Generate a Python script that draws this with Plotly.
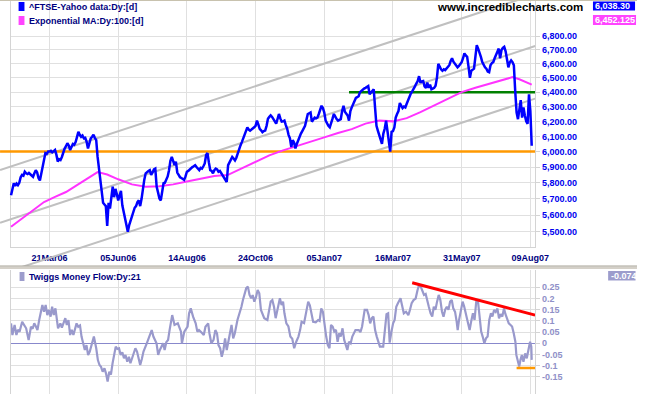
import math
import plotly.graph_objects as go

# ---------------- data ----------------
tick_idx = [0, 50, 100, 150, 200, 250, 300, 350]          # trading-day index
tick_lbl = ["21Mar06", "05Jun06", "14Aug06", "24Oct06",
            "05Jan07", "16Mar07", "31May07", "09Aug07"]

first_idx = -28
ftse_close = [
    5722, 5760, 5797, 5780, 5795, 5785, 5800, 5835, 5850, 5845,
    5870, 5860, 5855, 5862, 5855, 5845, 5838, 5860, 5880, 5865,
    5830, 5815, 5860, 5912, 5950, 5990, 5985, 6000, 6000, 6005,
    5995, 6000, 6010, 5980, 5935, 5950, 5945, 5965, 5995, 6020,
    6035, 6055, 6040, 6010, 6030, 6050, 6045, 6062, 6095, 6130,
    6110, 6097, 6105, 6087, 6090, 6065, 6020, 6050, 6087, 6097,
    6110, 6090, 6075, 5965, 5880, 5800, 5720, 5675, 5665, 5655,
    5535, 5675, 5640, 5700, 5775, 5710, 5762, 5730, 5690, 5720,
    5750, 5660, 5620, 5590, 5530, 5500, 5540, 5570, 5600, 5630,
    5645, 5655, 5680, 5690, 5655, 5700, 5775, 5820, 5860, 5870,
    5875, 5880, 5850, 5865, 5885, 5890, 5775, 5740, 5702, 5690,
    5760, 5797, 5800, 5818, 5840, 5880, 5940, 5965, 5930, 5912,
    5935, 5865, 5850, 5835, 5830, 5825, 5818, 5840, 5870, 5875,
    5885, 5895, 5900, 5905, 5912, 5900, 5890, 5880, 5895, 5890,
    5905, 5923, 5978, 5990, 5930, 5880, 5875, 5860, 5880, 5890,
    5885, 5870, 5875, 5860, 5850, 5830, 5815, 5805, 5912, 5930,
    5950, 5965, 5955, 5943, 5960, 5990, 6010, 6040, 6062, 6085,
    6105, 6130, 6160, 6145, 6138, 6145, 6150, 6160, 6170, 6205,
    6180, 6150, 6140, 6128, 6135, 6138, 6170, 6218, 6230, 6240,
    6230, 6218, 6200, 6184, 6215, 6250, 6220, 6198, 6200, 6205,
    6175, 6150, 6110, 6087, 6030, 6075, 6060, 6020, 6050, 6075,
    6095, 6118, 6135, 6150, 6170, 6210, 6250, 6255, 6260, 6198,
    6215, 6225, 6220, 6225, 6250, 6280, 6306, 6290, 6260, 6205,
    6185, 6170, 6160, 6200, 6218, 6250, 6230, 6215, 6205, 6210,
    6215, 6270, 6306, 6265, 6250, 6240, 6205, 6270, 6295, 6320,
    6340, 6360, 6365, 6372, 6400, 6410, 6420, 6425, 6430, 6435,
    6442, 6385, 6395, 6410, 6420, 6290, 6170, 6138, 6105, 6075,
    6050, 6118, 6150, 6205, 6138, 6090, 6000, 6130, 6135, 6160,
    6225, 6250, 6270, 6325, 6310, 6290, 6300, 6295, 6320, 6345,
    6360, 6390, 6405, 6420, 6440, 6460, 6478, 6512, 6466, 6475,
    6478, 6440, 6430, 6466, 6430, 6453, 6420, 6425, 6430, 6445,
    6500, 6600, 6575, 6560, 6550, 6560, 6555, 6565, 6575, 6590,
    6620, 6640, 6615, 6600, 6590, 6575, 6585, 6600, 6612, 6640,
    6675, 6660, 6650, 6580, 6500, 6550, 6560, 6565, 6650, 6735,
    6710, 6685, 6650, 6612, 6590, 6575, 6565, 6545, 6540, 6590,
    6605, 6612, 6640, 6662, 6685, 6710, 6640, 6700, 6715, 6723,
    6690, 6640, 6575, 6610, 6625, 6612, 6590, 6405, 6260, 6215,
    6290, 6345, 6225, 6295, 6240, 6200, 6184, 6385, 6271, 6038.3,
]
ftse_idx = list(range(first_idx, first_idx + len(ftse_close)))

ema_idx = [-28, -20, -12, -4, 4, 12, 20, 28, 35, 42, 50, 60, 70, 80, 90, 100,
           110, 120, 130, 140, 150, 160, 170, 180, 190, 200, 210, 220, 230,
           240, 250, 260, 270, 280, 290, 300, 310, 320, 330, 337, 342, 347, 351]
ema_val = [5530, 5580, 5630, 5680, 5712, 5742, 5785, 5830, 5868, 5852, 5822,
           5790, 5775, 5778, 5790, 5808, 5825, 5843, 5850, 5892, 5935, 5975,
           6008, 6035, 6062, 6093, 6122, 6148, 6185, 6205, 6200, 6222, 6262,
           6306, 6355, 6400, 6430, 6458, 6490, 6505, 6490, 6470, 6452.125]

tmf_idx = [
    -28, -27, -25.4, -24.1, -23, -21.8, -19.9, -18.2, -17, -15.2, -13.5, -12.3,
    -11.1, -9.9, -8.8, -7.5, -6.3, -5.2, -4, -2.8, -1.6, -0.4, 0.8, 1.9, 3.1,
    4.3, 6.2, 7.9, 9, 11.5, 12.6, 13.8, 15, 16.2, 17.4, 19.7, 20.9, 22.2, 23.3,
    24.5, 25.7, 26.9, 28.1, 29.3, 30.4, 32.3, 34, 35.2, 36.4, 37.5, 38.7, 40,
    41.1, 42.3, 43.5, 44.7, 45.9, 47.1, 48.2, 49.4, 50.6, 51.8, 53, 54.2, 55.3,
    56.6, 57.8, 58.9, 61.3, 62.5, 63.7, 66, 67.2, 68.4, 70.8, 72, 74.4, 75.6,
    77.9, 79.1, 80.3, 82.7, 83.8, 85, 86.3, 87.4, 89.3, 91, 93.4, 95.7, 96.4,
    98.1, 100.5, 101.6, 102.8, 104.5, 106.4, 107.6, 108.8, 111.2, 112.3, 113.5,
    115.5, 116.4, 117.8, 119.4, 120.7, 121.9, 123, 124.2, 125.4, 126.6, 127.8,
    129, 130.1, 131.3, 132.5, 133.7, 134.9, 136.8, 138.5, 139.7, 140.8, 142,
    143.2, 144.4, 145.6, 146.8, 147.9, 149.1, 150.4, 151.5, 152.7, 153.9,
    155.1, 156.3, 158.6, 159.8, 161, 162.2, 163.4, 164.6, 165.7, 166.9, 167.7,
    168.9, 170, 171, 172.4, 173.9, 175.3, 176.7, 178.1, 179.6, 181.2, 182.4,
    183.5, 185.3, 186.7, 188.3, 189.5, 190.7, 191.9, 193.8, 195.5, 196.6,
    197.8, 199, 200.2, 201.4, 202.6, 203.8, 204.9, 206.1, 207.3, 208.5, 209.7,
    210.9, 212, 213.3, 214.5, 215.6, 216.8, 218, 219.2, 220.4, 222.7, 225.1,
    226.3, 227.5, 229.4, 231.1, 232.3, 233.4, 234.6, 235.8, 237, 238.2, 239.4,
    240.5, 242.9, 244.1, 245.3, 246.5, 247.6, 248.9, 250.1, 251.2, 252.4,
    253.6, 255.5, 256.4, 257.9, 259.5, 261.2, 262.4, 263.6, 265, 266.5, 267.9,
    269, 270.2, 271.4, 272.6, 273.8, 275, 276.1, 277.4, 278.6, 279.7, 280.9,
    282.1, 283.3, 284.5, 285.7, 286.8, 288, 289.2, 290.4, 291.6, 292.8, 293.9,
    295.2, 296.4, 297.1, 298, 299.3, 300.7, 301.8, 303, 304.6, 305.8, 307,
    308.2, 309.4, 310.6, 311.8, 313, 314.2, 315.3, 316.5, 317.7, 318.9, 320.1,
    321.3, 322.4, 323.6, 324.8, 326, 327.2, 328.4, 329.6, 330.8, 331.9, 333.1,
    334.3, 335.6, 336.7, 337.9, 339.1, 339.8, 340.7, 341.9, 342.8, 343.8, 345,
    346.2, 347.4, 348.6, 349.8, 350.7, 351,
]
tmf_val = [
    0.089, 0.037, 0.082, 0.037, 0.060, 0.052, 0.096, 0.082, 0.067, 0.015, 0.074,
    0.065, 0.089, 0.075, 0.059, 0.104, 0.141, 0.171, 0.141, 0.171, 0.126, 0.149,
    0.119, 0.163, 0.126, 0.156, 0.067, 0.089, 0.070, 0.112, 0.082, 0.104, 0.037,
    0.060, 0.037, 0.089, 0.074, 0.080, 0.030, -0.008, -0.030, -0.008, -0.052,
    -0.037, -0.015, 0.030, -0.022, -0.075, -0.097, -0.105, -0.127, -0.112,
    -0.134, -0.171, -0.127, -0.140, -0.089, -0.045, -0.015, -0.025, -0.022,
    -0.052, -0.040, -0.067, -0.052, -0.082, -0.060, -0.089, -0.037, -0.022,
    -0.037, -0.097, -0.070, -0.037, 0.000, 0.022, 0.059, 0.030, 0.000, -0.052,
    -0.030, 0.000, -0.030, 0.005, 0.015, 0.059, 0.126, 0.082, 0.089, 0.052,
    0.000, 0.052, 0.074, 0.134, 0.156, 0.119, 0.089, 0.052, 0.059, 0.045, 0.037,
    0.074, 0.089, 0.045, 0.000, 0.015, 0.059, 0.045, -0.008, -0.022, -0.060,
    -0.030, 0.022, -0.030, 0.007, 0.052, 0.082, 0.022, 0.045, 0.104, 0.134,
    0.163, 0.193, 0.223, 0.246, 0.253, 0.216, 0.201, 0.215, 0.186, 0.208, 0.238,
    0.223, 0.149, 0.134, 0.112, 0.104, 0.149, 0.186, 0.193, 0.163, 0.112, 0.140,
    0.179, 0.201, 0.171, 0.186, 0.134, 0.089, 0.075, 0.030, 0.020, -0.022, 0.007,
    0.030, 0.059, 0.096, 0.090, 0.134, 0.186, 0.170, 0.134, 0.096, 0.094, 0.104,
    0.100, 0.156, 0.141, 0.074, 0.030, -0.008, -0.022, 0.082, 0.075, 0.052,
    0.060, 0.007, 0.045, 0.030, 0.067, 0.015, -0.008, -0.030, 0.007, 0.000,
    0.030, 0.059, 0.059, 0.050, 0.074, 0.149, 0.149, 0.126, 0.089, 0.112, 0.119,
    0.059, 0.030, 0.007, -0.015, -0.015, 0.074, 0.130, 0.134, 0.003, 0.052,
    0.089, 0.104, 0.163, 0.179, 0.201, 0.175, 0.134, 0.141, 0.126, 0.150, 0.179,
    0.193, 0.200, 0.238, 0.260, 0.253, 0.238, 0.216, 0.220, 0.186, 0.163, 0.134,
    0.119, 0.163, 0.150, 0.186, 0.216, 0.193, 0.141, 0.119, 0.150, 0.163, 0.150,
    0.186, 0.193, 0.156, 0.140, 0.096, 0.059, 0.100, 0.149, 0.186, 0.165, 0.134,
    0.082, 0.059, 0.100, 0.134, 0.104, 0.186, 0.193, 0.112, 0.052, 0.030, 0.000,
    0.022, 0.030, 0.104, 0.134, 0.120, 0.149, 0.140, 0.156, 0.112, 0.130, 0.119,
    0.156, 0.130, 0.104, 0.089, 0.082, 0.075, 0.045, 0.007, -0.052, -0.082,
    -0.104, -0.075, -0.052, -0.082, -0.045, -0.067, -0.037, 0.007, -0.015,
    -0.074,
]

price_ticks = list(range(5500, 6801, 100))
tmf_ticks = [0.25, 0.2, 0.15, 0.1, 0.05, 0, -0.05, -0.1, -0.15]
tmf_tick_lbl = ["0.25", "0.2", "0.15", "0.1", "0.05", "0", "-0.05", "-0.1", "-0.15"]

support_level = 6000
resistance_level = 6400
resistance_from = 218
channel_idx = [-36.0, 353.5]
channel_upper = [5881, 7117]
channel_middle = [5554, 6729]
channel_lower = [5252, 6355]
tmf_trend_idx = [264, 353.5]
tmf_trend_val = [0.270, 0.126]
tmf_floor_idx = [340, 353.5]
tmf_floor_val = -0.110

last_close = 6038.30
last_ema = 6452.125
last_tmf = -0.074

# ---------------- geometry ----------------
W, H = 651, 395
PX_DAY, X0 = 1.404, 50.6
K = (231.7 - 36.3) / math.log(6800 / 5500)


def idx_at(p):
    return (p - X0) / PX_DAY


def price_at(p):
    return 6800 * math.exp((36.3 - p) / K)


def tmf_at(p):
    return (343.3 - p) / 224.0


def fx(p):
    return p / W


def fy(p):
    return 1 - p / H


main_box = (11, 1, 547, 247)
over_box = (0, 1, 547, 266)
tmf_box = (11, 270, 547, 394)

FONT = "Liberation Sans, Arial, sans-serif"
GRID = "#e0e0e0"
BORDER = "#d4d4d4"

fig = go.Figure()

# empty holder trace so the main (grid / tick label) subplot exists
fig.add_trace(go.Scatter(x=[], y=[], xaxis="x", yaxis="y", mode="lines", hoverinfo="skip"))

# channel + support/resistance (overlay axes, extend beyond plot like the original)
for vals in (channel_upper, channel_middle, channel_lower):
    fig.add_trace(go.Scatter(x=channel_idx, y=vals, mode="lines", xaxis="x3", yaxis="y3",
                             line=dict(color="#c0c0c0", width=2), hoverinfo="skip"))
fig.add_trace(go.Scatter(x=channel_idx, y=[support_level] * 2, mode="lines", xaxis="x3", yaxis="y3",
                         line=dict(color="#ff9900", width=2.5), hoverinfo="skip"))
fig.add_trace(go.Scatter(x=[resistance_from, channel_idx[1]], y=[resistance_level] * 2, mode="lines",
                         xaxis="x3", yaxis="y3", line=dict(color="#008000", width=2.5), hoverinfo="skip"))
fig.add_trace(go.Scatter(x=ema_idx, y=ema_val, mode="lines", xaxis="x3", yaxis="y3",
                         line=dict(color="#ff33ff", width=2), name="Exponential MA:Dy:100:[d]"))
fig.add_trace(go.Scatter(x=ftse_idx, y=ftse_close, mode="lines", xaxis="x3", yaxis="y3",
                         line=dict(color="#0000ff", width=2.5), name="^FTSE-Yahoo data:Dy:[d]"))

# Twiggs money flow
fig.add_trace(go.Scatter(x=tmf_idx, y=tmf_val, mode="lines", xaxis="x2", yaxis="y2",
                         line=dict(color="#9999cc", width=2.2), name="Twiggs Money Flow:Dy:21"))
fig.add_trace(go.Scatter(x=tmf_trend_idx, y=tmf_trend_val, mode="lines", xaxis="x2", yaxis="y2",
                         line=dict(color="#ff0000", width=3), hoverinfo="skip"))
fig.add_trace(go.Scatter(x=tmf_floor_idx, y=[tmf_floor_val] * 2, mode="lines", xaxis="x2", yaxis="y2",
                         line=dict(color="#ff9900", width=2.5), hoverinfo="skip"))

tick_font_x = dict(family=FONT, size=9, color="#000080", weight="bold")

layout = dict(
    width=W, height=H, margin=dict(l=0, r=0, t=0, b=0),
    paper_bgcolor="white", plot_bgcolor="rgba(0,0,0,0)", showlegend=False,
    font=dict(family=FONT),
    xaxis=dict(domain=[fx(main_box[0]), fx(main_box[2])], anchor="y",
               range=[idx_at(main_box[0]), idx_at(main_box[2])],
               tickmode="array", tickvals=tick_idx, ticktext=tick_lbl,
               showgrid=True, gridcolor=GRID, zeroline=False,
               showline=True, linecolor=BORDER, linewidth=1,
               ticks="", ticklabelstandoff=2,
               tickfont=tick_font_x, fixedrange=True),
    yaxis=dict(domain=[fy(main_box[3]), fy(main_box[1])], anchor="x", type="log",
               range=[math.log10(price_at(main_box[3])), math.log10(price_at(main_box[1]))],
               side="right", tickmode="array", tickvals=price_ticks, tickformat=",.2f",
               showgrid=True, gridcolor=GRID, zeroline=False,
               showline=True, mirror=True, linecolor=BORDER, linewidth=1,
               ticks="outside", ticklen=4, tickcolor=BORDER,
               tickfont=dict(family=FONT, size=9, color="#0000ee", weight="bold"),
               fixedrange=True),
    xaxis3=dict(domain=[fx(over_box[0]), fx(over_box[2])], anchor="y3",
                range=[idx_at(over_box[0]), idx_at(over_box[2])], visible=False, fixedrange=True),
    yaxis3=dict(domain=[fy(over_box[3]), fy(over_box[1])], anchor="x3", type="log",
                range=[math.log10(price_at(over_box[3])), math.log10(price_at(over_box[1]))],
                visible=False, fixedrange=True),
    xaxis2=dict(domain=[fx(tmf_box[0]), fx(tmf_box[2])], anchor="y2",
                range=[idx_at(tmf_box[0]), idx_at(tmf_box[2])],
                tickmode="array", tickvals=tick_idx, showticklabels=False,
                showgrid=True, gridcolor=GRID, zeroline=False, showline=False, ticks="",
                fixedrange=True),
    yaxis2=dict(domain=[fy(tmf_box[3]), fy(tmf_box[1])], anchor="x2",
                range=[tmf_at(tmf_box[3]), tmf_at(tmf_box[1])],
                side="right", tickmode="array", tickvals=tmf_ticks, ticktext=tmf_tick_lbl,
                showgrid=True, gridcolor=GRID,
                zeroline=True, zerolinecolor="#8888cc", zerolinewidth=1,
                showline=True, mirror=True, linecolor=BORDER, linewidth=1,
                ticks="outside", ticklen=4, tickcolor=BORDER,
                tickfont=dict(family=FONT, size=9, color="#9090c8", weight="bold"),
                fixedrange=True),
)

shapes = [
    # panel separator (3-D style) and top border
    dict(type="rect", xref="paper", yref="paper", x0=0, x1=1, y0=fy(269), y1=fy(266.5),
         fillcolor="#d4d0c8", line=dict(width=0)),
    dict(type="rect", xref="paper", yref="paper", x0=0, x1=1, y0=fy(266.5), y1=fy(265.5),
         fillcolor="#a8a498", line=dict(width=0)),
    dict(type="rect", xref="paper", yref="paper", x0=0, x1=1, y0=fy(1), y1=1,
         fillcolor="#c8c2ae", line=dict(width=0)),
    # legend swatches
    dict(type="rect", xref="paper", yref="paper", x0=fx(19), x1=fx(25), y0=fy(11), y1=fy(2),
         fillcolor="#0000ff", line=dict(width=0)),
    dict(type="rect", xref="paper", yref="paper", x0=fx(19), x1=fx(25), y0=fy(25), y1=fy(16),
         fillcolor="#ff44ff", line=dict(width=0)),
    dict(type="rect", xref="paper", yref="paper", x0=fx(20), x1=fx(25), y0=fy(281), y1=fy(272),
         fillcolor="#9c9ccc", line=dict(width=0)),
    # last-value boxes
    dict(type="rect", xref="paper", yref="paper", x0=fx(606), x1=fx(649), y0=fy(10.5), y1=fy(1.5),
         fillcolor="#0000ff", line=dict(width=0)),
    dict(type="rect", xref="paper", yref="paper", x0=fx(606), x1=fx(650), y0=fy(25), y1=fy(15),
         fillcolor="#ff44ff", line=dict(width=0)),
    dict(type="rect", xref="paper", yref="paper", x0=fx(621.5), x1=fx(649.5), y0=fy(280.5), y1=fy(271),
         fillcolor="#9c9ccc", line=dict(width=0)),
]


def label(text, x, y, color, size=9, anchor="left", bold=True):
    return dict(text=text, xref="paper", yref="paper", x=fx(x), y=fy(y),
                xanchor=anchor, yanchor="middle", showarrow=False,
                font=dict(family=FONT, size=size, color=color, weight="bold" if bold else "normal"))


annotations = [
    label("^FTSE-Yahoo data:Dy:[d]", 27.5, 7, "#000080"),
    label("Exponential MA:Dy:100:[d]", 27.5, 21, "#000080"),
    label("Twiggs Money Flow:Dy:21", 27.5, 277, "#000080"),
    label("www.incrediblecharts.com", 598, 7.5, "#000000", size=11.5, anchor="right"),
    label(f"{last_close:,.2f}", 606.5, 6.2, "#ffffff"),
    label(f"{last_ema:,.3f}", 606.5, 20.2, "#ffffff"),
    label(f"{last_tmf:.3f}", 622, 276, "#ffffff"),
]

fig.update_layout(**layout, shapes=shapes, annotations=annotations)
fig.write_html("out.html", config={"displayModeBar": False},
               post_script="document.body.style.margin='0';document.body.style.overflow='hidden';")
